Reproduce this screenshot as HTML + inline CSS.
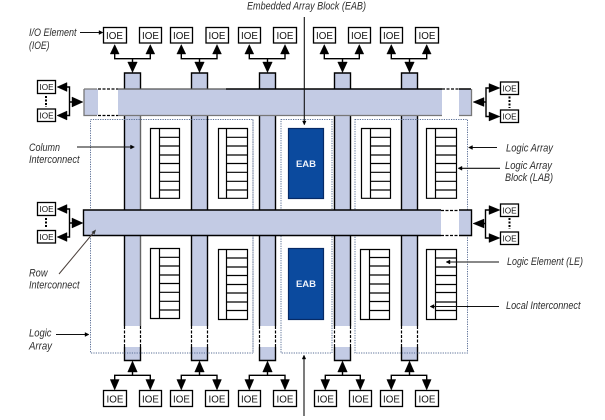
<!DOCTYPE html>
<html><head><meta charset="utf-8"><style>
html,body{margin:0;padding:0;background:#fff;width:605px;height:420px;overflow:hidden}
svg{display:block}
.l{font:italic 10.8px "Liberation Sans",sans-serif;fill:#2e2e2e}
.i{font:9.8px "Liberation Sans",sans-serif;fill:#111;text-anchor:middle}
.s{font:8.2px "Liberation Sans",sans-serif;fill:#111;text-anchor:middle}
.b{fill:#fff;stroke:#000;stroke-width:1.3}
.c{fill:#c3cbe4}
.k{stroke:#000;stroke-width:1.4;fill:none}
.d{stroke:#000;stroke-width:1.2;stroke-dasharray:3 1.5;fill:none}
.t{stroke:#5a6f96;stroke-width:1;stroke-dasharray:1.2 1.2;fill:none}
.a{fill:#000;stroke:#000;stroke-width:.4}
.n{stroke:#111;stroke-width:1.1;fill:none}
.f{stroke:#000;stroke-width:1.2;fill:none}
.e{font:bold 9.5px "Liberation Sans",sans-serif;fill:#eef2fa;text-anchor:middle}
</style></head><body>
<svg width="605" height="420" viewBox="0 0 605 420" xmlns="http://www.w3.org/2000/svg">
<!-- columns -->
<rect class="c" x="124.5" y="73" width="16" height="16"/><rect class="c" x="191.5" y="73" width="16" height="16"/><rect class="c" x="259.5" y="73" width="16" height="16"/><rect class="c" x="334.5" y="73" width="16" height="16"/><rect class="c" x="401.5" y="73" width="16" height="16"/>
<rect class="c" x="124.5" y="115" width="16" height="211"/><rect class="c" x="191.5" y="115" width="16" height="211"/><rect class="c" x="259.5" y="115" width="16" height="211"/><rect class="c" x="334.5" y="115" width="16" height="211"/><rect class="c" x="401.5" y="115" width="16" height="211"/>
<rect class="c" x="124.5" y="347" width="16" height="13.5"/><rect class="c" x="191.5" y="347" width="16" height="13.5"/><rect class="c" x="259.5" y="347" width="16" height="13.5"/><rect class="c" x="334.5" y="347" width="16" height="13.5"/><rect class="c" x="401.5" y="347" width="16" height="13.5"/>
<path class="k" d="M124.5 89V73H140.5V89M191.5 89V73H207.5V89M259.5 89V73H275.5V89M334.5 89V73H350.5V89M401.5 89V73H417.5V89"/>
<path class="k" d="M124.5 115V326M191.5 115V326M207.5 115V326M259.5 115V326M275.5 115V326M334.5 115V326M350.5 115V326M401.5 115V326M417.5 115V326"/>
<path d="M140.500 115V210M140.500 235V326" stroke="#666" stroke-width="1.400" fill="none"/>
<path class="d" d="M124.5 326V347M140.5 326V347M191.5 326V347M207.5 326V347M259.5 326V347M275.5 326V347M334.5 326V347M350.5 326V347M401.5 326V347M417.5 326V347"/>
<path class="k" d="M124.5 347V360.5H140.5V347M191.5 347V360.5H207.5V347M259.5 347V360.5H275.5V347M334.5 347V360.5H350.5V347M401.5 347V360.5H417.5V347"/>
<!-- dotted logic arrays -->
<rect class="t" x="90.5" y="119.5" width="162.5" height="233.5"/>
<rect class="t" x="281" y="119.5" width="51" height="233.5"/>
<rect class="t" x="355" y="119.5" width="112.5" height="233.5"/>
<path d="M253 119.500V353" stroke="#aab2c4" stroke-width="1.600" stroke-dasharray="1.200 1.200" fill="none"/>
<!-- rows -->
<rect class="c" x="84" y="89" width="387" height="26"/>
<rect x="98" y="89" width="20" height="26" fill="#fff"/><rect x="442" y="89" width="17" height="26" fill="#fff"/>
<path d="M118 89H226" stroke="#555" stroke-width="1.300" fill="none"/>
<path class="k" d="M226 89H442M459 89H471"/>
<path d="M84 89H97M84 89V115.500H97M118 115.500H442M459 115.500H471.500V89" fill="none" stroke="#777" stroke-width="1.300"/>
<path class="d" d="M98 89H118M98 115.500H118M442 89H459"/>
<rect class="c" x="83.500" y="210" width="388" height="25.500"/>
<rect x="441" y="210" width="18" height="25.500" fill="#fff"/>
<path class="k" d="M441 210H83.500V235.500H441M459 210H471.500V235.500H459"/>
<path class="d" d="M441 210.500H459M441 235.500H459"/>
<!-- LABs -->
<path class="f" d="M150.500 128.500H179.500V198.300H150.500ZM159.500 128.500V198.300M159.500 137.300H179.500M159.500 146H179.500M159.500 155H179.500M159.500 163.500H179.500M159.500 172.300H179.500M159.500 181.300H179.500M159.500 190H179.500"/>
<path class="f" d="M218.500 128.500H247.500V198.300H218.500ZM226.500 128.500V198.300M226.500 137.300H247.500M226.500 146H247.500M226.500 155H247.500M226.500 163.500H247.500M226.500 172.300H247.500M226.500 181.300H247.500M226.500 190H247.500"/>
<path class="f" d="M361.500 128.500H390.500V198.300H361.500ZM370.500 128.500V198.300M370.500 137.300H390.500M370.500 146H390.500M370.500 155H390.500M370.500 163.500H390.500M370.500 172.300H390.500M370.500 181.300H390.500M370.500 190H390.500"/>
<path class="f" d="M426.500 128.500H456.500V198.300H426.500ZM435.500 128.500V198.300M435.500 137.300H456.500M435.500 146H456.500M435.500 155H456.500M435.500 163.500H456.500M435.500 172.300H456.500M435.500 181.300H456.500M435.500 190H456.500"/>
<path class="f" d="M150.500 248.500H179.500V318.500H150.500ZM159.500 248.500V318.500M159.500 257.300H179.500M159.500 266H179.500M159.500 275H179.500M159.500 283.500H179.500M159.500 292.300H179.500M159.500 301.300H179.500M159.500 310H179.500"/>
<path class="f" d="M218.500 249.500H247.500V319.500H218.500ZM226.500 249.500V319.500M226.500 258H247.500M226.500 267H247.500M226.500 275.500H247.500M226.500 284.500H247.500M226.500 293H247.500M226.500 302H247.500M226.500 310.500H247.500"/>
<path class="f" d="M360.500 249.500H389.500V319.500H360.500ZM369.500 249.500V319.500M369.500 257.500H389.500M369.500 266H389.500M369.500 275H389.500M369.500 284H389.500M369.500 293H389.500M369.500 301.500H389.500M369.500 310.500H389.500"/>
<path class="f" d="M426.500 249.500H456.500V319.500H426.500ZM435.500 249.500V319.500M435.500 258H456.500M435.500 267H456.500M435.500 275.500H456.500M435.500 284.500H456.500M435.500 292.500H456.500M435.500 302H456.500M435.500 310.500H456.500"/>
<!-- EABs -->
<rect x="288.500" y="128.500" width="35" height="70" fill="#0b4a9e" stroke="#062a66" stroke-width="1.200"/>
<rect x="288.500" y="248.500" width="35" height="71" fill="#0b4a9e" stroke="#062a66" stroke-width="1.200"/>
<text class="e" x="306" y="167">EAB</text>
<text class="e" x="306" y="287">EAB</text>
<!-- top IOE -->
<rect class="b" x="103.500" y="27.500" width="23" height="15.500"/><rect class="b" x="139.500" y="27.500" width="22" height="15.500"/><rect class="b" x="170.500" y="27.500" width="22" height="15.500"/><rect class="b" x="206" y="27.500" width="22.500" height="15.500"/><rect class="b" x="238.500" y="27.500" width="22" height="15.500"/><rect class="b" x="273.500" y="27.500" width="23" height="15.500"/><rect class="b" x="313.500" y="27.500" width="22" height="15.500"/><rect class="b" x="348.500" y="27.500" width="22" height="15.500"/><rect class="b" x="380.500" y="27.500" width="22" height="15.500"/><rect class="b" x="415.500" y="27.500" width="23" height="15.500"/>
<text class="i" x="114.500" y="39">IOE</text><text class="i" x="150.500" y="39">IOE</text><text class="i" x="181.500" y="39">IOE</text><text class="i" x="217" y="39">IOE</text><text class="i" x="249.500" y="39">IOE</text><text class="i" x="285" y="39">IOE</text><text class="i" x="324.500" y="39">IOE</text><text class="i" x="359.500" y="39">IOE</text><text class="i" x="391.500" y="39">IOE</text><text class="i" x="427" y="39">IOE</text>
<path class="k" d="M114.700 54V58.700H150.300V54M132.500 58.700V63M181.300 54V58.700H217V54M199.500 58.700V63M249.300 54V58.700H285V54M267.500 58.700V63M324.300 54V58.700H359.300V54M342.500 58.700V63M391.300 54V58.700H426.700V54M409.500 58.700V63"/>
<path class="a" d="M114.700 44.500l-4.500 9.500h9zM150.300 44.500l-4.500 9.500h9zM181.300 44.500l-4.500 9.500h9zM217 44.500l-4.500 9.500h9zM249.300 44.500l-4.500 9.500h9zM285 44.500l-4.500 9.500h9zM324.300 44.500l-4.500 9.500h9zM359.300 44.500l-4.500 9.500h9zM391.300 44.500l-4.500 9.500h9zM426.700 44.500l-4.500 9.500h9z"/>
<path class="a" d="M132.500 72.500l-4.800-10.500h9.600zM199.500 72.500l-4.800-10.500h9.600zM267.500 72.500l-4.800-10.500h9.600zM342.500 72.500l-4.800-10.500h9.600zM409.500 72.500l-4.800-10.500h9.600z"/>
<!-- bottom IOE -->
<rect class="b" x="103.500" y="390.500" width="23" height="16"/><rect class="b" x="139.500" y="390.500" width="22" height="16"/><rect class="b" x="170.500" y="390.500" width="22" height="16"/><rect class="b" x="205.500" y="390.500" width="23" height="16"/><rect class="b" x="238.500" y="390.500" width="22" height="16"/><rect class="b" x="273.500" y="390.500" width="23" height="16"/><rect class="b" x="314.500" y="390.500" width="22" height="16"/><rect class="b" x="349.500" y="390.500" width="22" height="16"/><rect class="b" x="380.500" y="390.500" width="22" height="16"/><rect class="b" x="415.500" y="390.500" width="23" height="16"/>
<text class="i" x="115" y="402.500">IOE</text><text class="i" x="150.500" y="402.500">IOE</text><text class="i" x="181.500" y="402.500">IOE</text><text class="i" x="217" y="402.500">IOE</text><text class="i" x="249.500" y="402.500">IOE</text><text class="i" x="285" y="402.500">IOE</text><text class="i" x="325.500" y="402.500">IOE</text><text class="i" x="360.500" y="402.500">IOE</text><text class="i" x="391.500" y="402.500">IOE</text><text class="i" x="427" y="402.500">IOE</text>
<path class="k" d="M114.700 380V375.300H150.300V380M132.500 375.300V371M181.300 380V375.300H217V380M199.500 375.300V371M249.300 380V375.300H285V380M267.500 375.300V371M325.300 380V375.300H360.300V380M342.500 375.300V371M391.300 380V375.300H426.700V380M409.500 375.300V371"/>
<path class="a" d="M132.500 361l-4.800 11h9.600zM199.500 361l-4.800 11h9.600zM267.500 361l-4.800 11h9.600zM342.500 361l-4.800 11h9.600zM409.500 361l-4.800 11h9.600z"/>
<path class="a" d="M114.700 390l-4.500-10.500h9zM150.300 390l-4.500-10.500h9zM181.300 390l-4.500-10.500h9zM217 390l-4.500-10.500h9zM249.300 390l-4.500-10.500h9zM285 390l-4.500-10.500h9zM325.300 390l-4.500-10.500h9zM360.300 390l-4.500-10.500h9zM391.300 390l-4.500-10.500h9zM426.700 390l-4.500-10.500h9z"/>
<!-- left IOE -->
<rect class="b" x="37.500" y="80.500" width="18" height="13"/><rect class="b" x="37.500" y="109" width="18" height="12.500"/><rect class="b" x="37.500" y="202.500" width="18" height="13"/><rect class="b" x="37.500" y="230.500" width="18" height="12.500"/>
<text class="s" x="46.500" y="90">IOE</text><text class="s" x="46.500" y="118.500">IOE</text><text class="s" x="46.500" y="212">IOE</text><text class="s" x="46.500" y="240">IOE</text>
<path class="k" d="M66 87H69.500V115.500H66M69.500 102H73M66 209H69.500V237H66M69.500 223H73"/>
<path class="a" d="M57 87l10-4.500v9zM57 115.500l10-4.500v9zM57 209l10-4.500v9zM57 237l10-4.500v9z"/>
<path class="a" d="M83 102l-11-5v10zM83 223l-11-5v10z"/>
<path stroke="#000" stroke-width="2" stroke-dasharray="2 1.500" d="M46 96V107M46 218V228"/>
<!-- right IOE -->
<rect class="b" x="500.500" y="82" width="18" height="12.500"/><rect class="b" x="500.500" y="110" width="18" height="12.500"/><rect class="b" x="500.500" y="204" width="18" height="12.500"/><rect class="b" x="500.500" y="232" width="18" height="12.500"/>
<text class="s" x="509.500" y="91.500">IOE</text><text class="s" x="509.500" y="119.500">IOE</text><text class="s" x="509.500" y="213.500">IOE</text><text class="s" x="509.500" y="241.500">IOE</text>
<path class="k" d="M490 88H486V116.500H490M486 102H483M490 210H485.500V238H490M485.500 223.500H483"/>
<path class="a" d="M500 88l-11-4.500v9zM500 116.500l-11-4.500v9zM500 210l-11-4.500v9zM500 238l-11-4.500v9z"/>
<path class="a" d="M473 102l11-4.500v9zM473 223.500l11-4.500v9z"/>
<path stroke="#000" stroke-width="2" stroke-dasharray="2 1.500" d="M509.500 96.500V108M509.500 218V229"/>
<!-- callouts -->
<path class="n" d="M304.300 17V122M304 416V358M80 32.500H99M77 147H131M56 334.500H86M497 147.500H472M500 168.300H461M499 262H449M499 306.500H433"/>
<path d="M59 274L94 232" stroke="#4a3f3a" stroke-width="1" fill="none"/>
<path class="a" d="M304.300 125l-1.800-4h3.600zM304 355l-1.800 4h3.600zM103 32.500l-4-2v4zM134.500 147l-4-2v4zM89 334.500l-4-2v4zM468.500 147.500l4-2v4zM458 168.300l4-2v4zM446 262l4-2v4zM430 306.500l4-2v4z"/>
<path d="M96 229.500l-4.500 2.500 3 2.500z" fill="#333"/>
<!-- labels -->
<text class="l" x="247" y="9.500" textLength="119" lengthAdjust="spacingAndGlyphs">Embedded Array Block (EAB)</text>
<text class="l" x="29" y="36" textLength="47.500" lengthAdjust="spacingAndGlyphs">I/O Element</text>
<text class="l" x="29" y="49" textLength="20.500" lengthAdjust="spacingAndGlyphs">(IOE)</text>
<text class="l" x="29" y="151" textLength="31" lengthAdjust="spacingAndGlyphs">Column</text>
<text class="l" x="29" y="163" textLength="50.500" lengthAdjust="spacingAndGlyphs">Interconnect</text>
<text class="l" x="29" y="276.500" textLength="18.500" lengthAdjust="spacingAndGlyphs">Row</text>
<text class="l" x="29" y="288.500" textLength="50.500" lengthAdjust="spacingAndGlyphs">Interconnect</text>
<text class="l" x="29" y="336.500" textLength="22.500" lengthAdjust="spacingAndGlyphs">Logic</text>
<text class="l" x="29" y="349.500" textLength="23" lengthAdjust="spacingAndGlyphs">Array</text>
<text class="l" x="506" y="151.500" textLength="47" lengthAdjust="spacingAndGlyphs">Logic Array</text>
<text class="l" x="505" y="169" textLength="47" lengthAdjust="spacingAndGlyphs">Logic Array</text>
<text class="l" x="505" y="181" textLength="48" lengthAdjust="spacingAndGlyphs">Block (LAB)</text>
<text class="l" x="507" y="265" textLength="76" lengthAdjust="spacingAndGlyphs">Logic Element (LE)</text>
<text class="l" x="506" y="309" textLength="74.500" lengthAdjust="spacingAndGlyphs">Local Interconnect</text>
</svg>
</body></html>
